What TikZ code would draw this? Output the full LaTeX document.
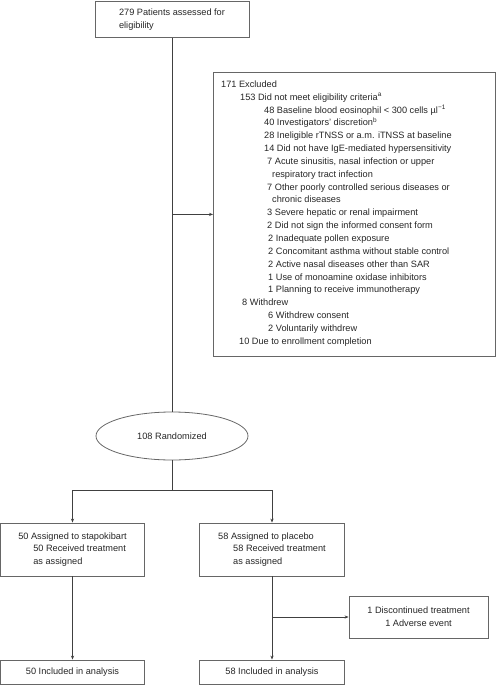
\documentclass[tikz,border=0pt]{standalone}
\usepackage{fontspec}
\setmainfont{Liberation Sans}
\usetikzlibrary{arrows.meta,shapes.geometric}
\begin{document}
\begin{tikzpicture}[x=1pt,y=-1pt,
  fnt/.style={font=\fontsize{9.2}{12.85}\selectfont, text=black!85},
  box/.style={draw=black!60, line width=0.8pt, inner sep=0pt, fnt},
  txt/.style={inner sep=0pt, fnt},
  conn/.style={draw=black!75, line width=0.8pt},
  arr/.style={conn, -{Stealth[length=4pt,width=3.2pt]}}]
\useasboundingbox (0,0) rectangle (496,685);

% boxes
\node[box, minimum width=154pt, minimum height=36.5pt, align=left] (top) at (172,19.2)
  {279 Patients assessed for\\eligibility};
\node[box, anchor=north west, minimum width=282pt, minimum height=284pt] (excl) at (213,72) {};
\node[box, ellipse, minimum width=152pt, minimum height=48pt] (rand) at (172,436) {108 Randomized};
\node[box, minimum width=144pt, minimum height=53pt, align=left] (a1) at (72.5,549.5)
  {50 Assigned to stapokibart\\\hspace*{15pt}50 Received treatment\\\hspace*{15pt}as assigned};
\node[box, minimum width=145pt, minimum height=53pt, align=left] (a2) at (272,549.5)
  {58 Assigned to placebo\\\hspace*{15pt}58 Received treatment\\\hspace*{15pt}as assigned};
\node[box, minimum width=139pt, minimum height=42pt, align=center] (dis) at (418.5,617)
  {1 Discontinued treatment\\1 Adverse event};
\node[box, minimum width=144pt, minimum height=24pt] (b1) at (72.5,672) {50 Included in analysis};
\node[box, minimum width=145pt, minimum height=24pt] (b2) at (272,672) {58 Included in analysis};

% excluded list
\foreach \x/\t [count=\i] in {
  221/{171 Excluded},
  240/{153 Did not meet eligibility criteria\textsuperscript{a}},
  264/{48 Baseline blood eosinophil < 300 cells µl\textsuperscript{−1}},
  264/{40 Investigators’ discretion\textsuperscript{b}},
  264/{28 Ineligible rTNSS or a.m. iTNSS at baseline},
  264/{14 Did not have IgE-mediated hypersensitivity},
  267/{7 Acute sinusitis, nasal infection or upper},
  272/{respiratory tract infection},
  267/{7 Other poorly controlled serious diseases or},
  272/{chronic diseases},
  267/{3 Severe hepatic or renal impairment},
  267/{2 Did not sign the informed consent form},
  268/{2 Inadequate pollen exposure},
  268/{2 Concomitant asthma without stable control},
  268/{2 Active nasal diseases other than SAR},
  268/{1 Use of monoamine oxidase inhibitors},
  268/{1 Planning to receive immunotherapy},
  242/{8 Withdrew},
  268/{6 Withdrew consent},
  268/{2 Voluntarily withdrew},
  239/{10 Due to enrollment completion}}
  \node[txt, anchor=base west] (e\i) at (\x,{87.3+(\i-1)*12.85}) {\t};

% connectors
\draw[conn] (top.south) -- (rand.north);
\draw[arr] (top.south |- excl.west) -- (excl.west);
\draw[conn] (rand.south) -- ++(0,30) coordinate (split);
\draw[arr] (split) -| (a1.north);
\draw[arr] (split) -| (a2.north);
\draw[arr] (a1.south) -- (b1.north);
\draw[arr] (a2.south) -- (b2.north);
\draw[arr] (a2.south |- dis.west) -- (dis.west);
\end{tikzpicture}
\end{document}
